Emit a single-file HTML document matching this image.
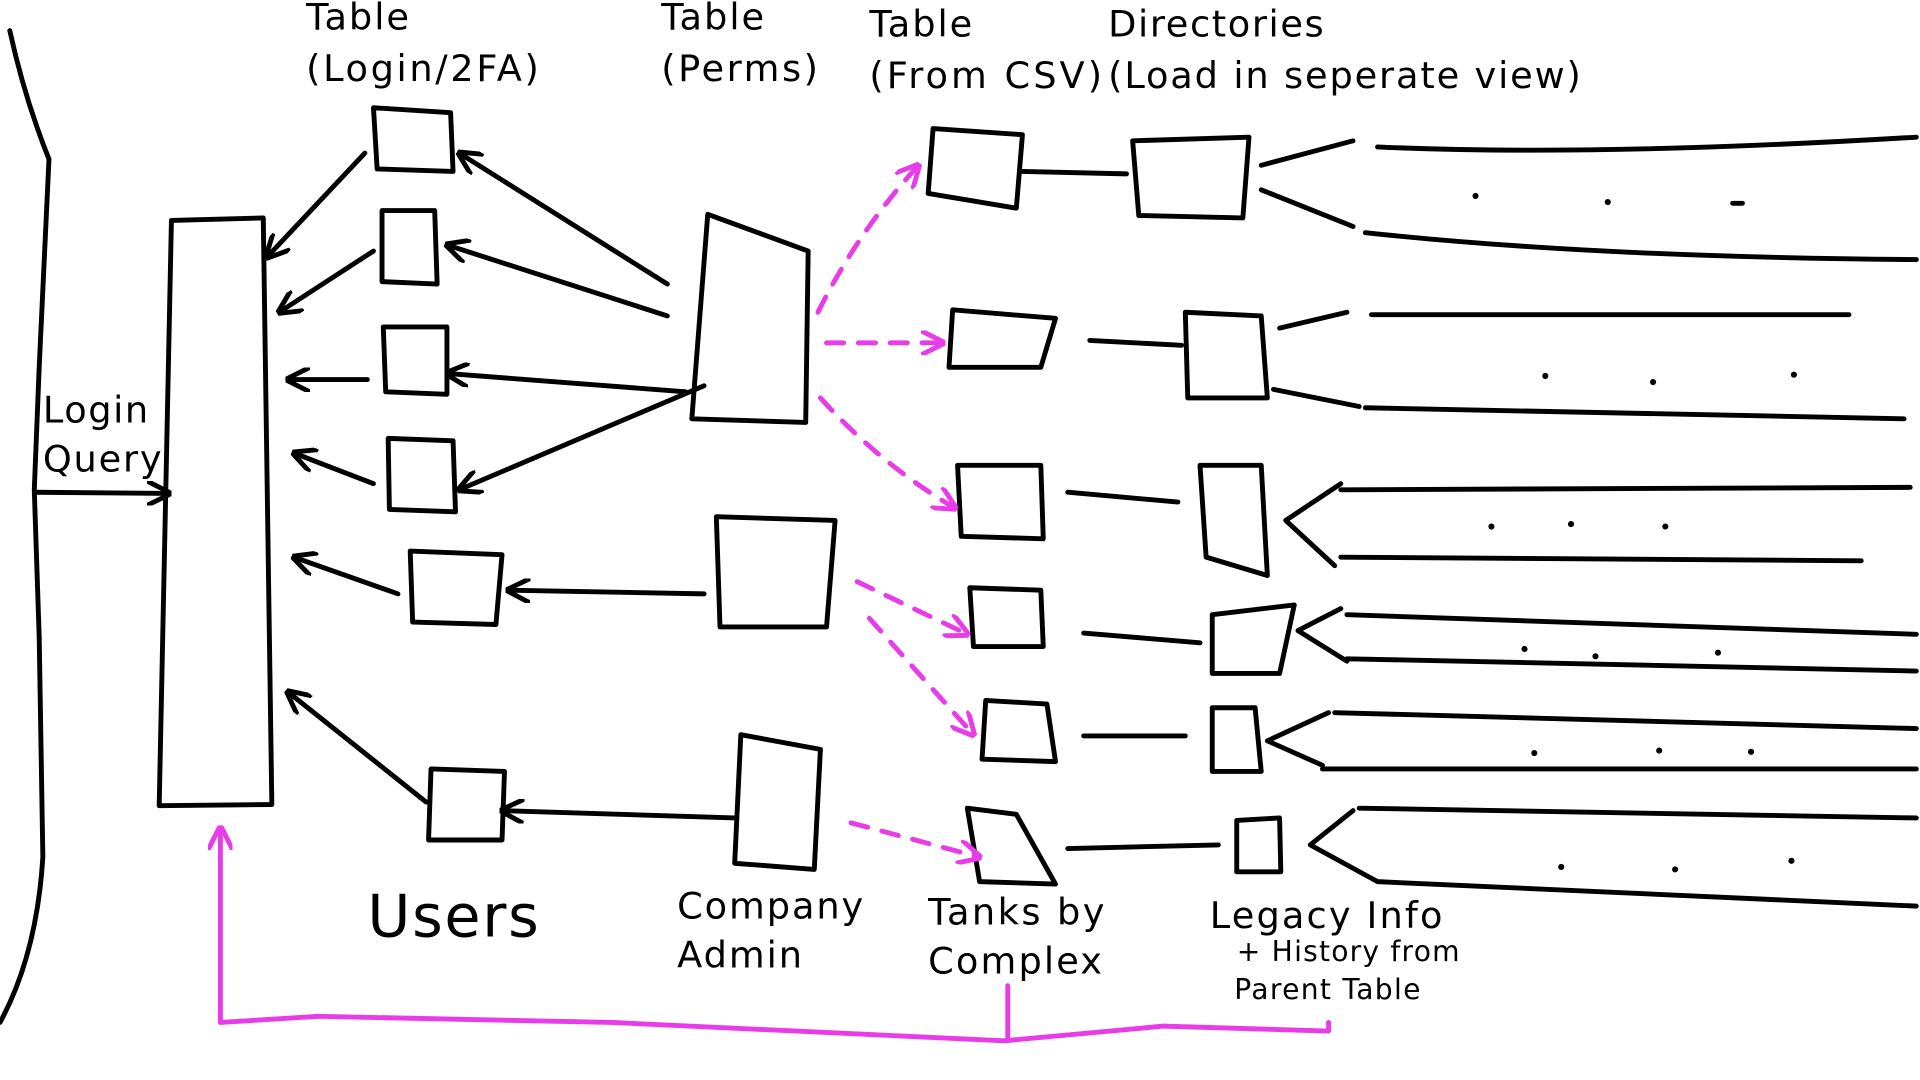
<!DOCTYPE html>
<html><head><meta charset="utf-8"><style>
html,body{margin:0;padding:0;background:#fff;}
svg{display:block;}
text{font-family:"DejaVu Sans","Liberation Sans",sans-serif;fill:#000;}
</style></head><body>
<svg width="1920" height="1080" viewBox="0 0 1568 882" preserveAspectRatio="none" xmlns="http://www.w3.org/2000/svg">
<defs>
<marker id="ah" viewBox="0 0 10 10" refX="9" refY="5" markerWidth="5" markerHeight="5" orient="auto-start-reverse"><path d="M0,0 L10,5 L0,10" fill="none" stroke="#000" stroke-width="2"/></marker>
<marker id="am" viewBox="0 0 10 10" refX="9" refY="5" markerWidth="5" markerHeight="5" orient="auto-start-reverse"><path d="M0,0 L10,5 L0,10" fill="none" stroke="#e83ce8" stroke-width="2"/></marker>
</defs>
<g fill="none" stroke="#000" stroke-width="4" stroke-linecap="round" stroke-linejoin="round">
<path d="M8,25 Q20,80 40,130 L32,300 L28,400 L32,520 L35,700 Q30,780 0,835"/>
<path d="M140,180 L215,178 L222,657 L130,658 Z"/>
<path d="M28,402 L138,403" marker-end="url(#ah)"/>
<path d="M305,88 L368,92 L370,140 L308,138 Z"/>
<path d="M312,172 L355,172 L357,232 L312,230 Z"/>
<path d="M313,267 L365,267 L365,322 L315,320 Z"/>
<path d="M317,358 L370,360 L372,418 L318,416 Z"/>
<path d="M335,450 L410,453 L405,510 L337,508 Z"/>
<path d="M352,628 L412,630 L410,686 L350,686 Z"/>
<path d="M298,125 L218,210" marker-end="url(#ah)"/>
<path d="M305,205 L228,255" marker-end="url(#ah)"/>
<path d="M300,310 L235,310" marker-end="url(#ah)"/>
<path d="M305,395 L240,370" marker-end="url(#ah)"/>
<path d="M325,485 L240,455" marker-end="url(#ah)"/>
<path d="M348,655 L235,565" marker-end="url(#ah)"/>
<path d="M578,175 L660,205 L658,345 L565,342 Z"/>
<path d="M545,232 L375,125" marker-end="url(#ah)"/>
<path d="M545,258 L365,200" marker-end="url(#ah)"/>
<path d="M560,320 L365,305" marker-end="url(#ah)"/>
<path d="M575,315 L375,400" marker-end="url(#ah)"/>
<path d="M585,422 L682,425 L675,512 L588,512 Z"/>
<path d="M575,485 L415,482" marker-end="url(#ah)"/>
<path d="M605,600 L670,612 L665,710 L600,705 Z"/>
<path d="M600,668 L410,662" marker-end="url(#ah)"/>
<path d="M762,105 L835,110 L830,170 L758,158 Z"/>
<path d="M778,253 L862,260 L850,300 L775,300 Z"/>
<path d="M782,380 L850,380 L852,440 L785,438 Z"/>
<path d="M792,480 L850,482 L852,528 L795,528 Z"/>
<path d="M805,572 L855,575 L862,622 L802,620 Z"/>
<path d="M790,660 L830,665 L862,722 L800,720 Z"/>
<path d="M925,115 L1020,112 L1015,178 L930,176 Z"/>
<path d="M968,255 L1030,258 L1035,325 L970,325 Z"/>
<path d="M980,380 L1030,380 L1035,470 L985,455 Z"/>
<path d="M990,502 L1057,494 L1045,550 L990,550 Z"/>
<path d="M990,578 L1025,578 L1030,630 L990,630 Z"/>
<path d="M1010,670 L1045,668 L1046,712 L1010,712 Z"/>
<path d="M835,140 L920,142"/>
<path d="M890,278 L965,282"/>
<path d="M872,402 L962,410"/>
<path d="M885,517 L980,525"/>
<path d="M885,601 L968,601"/>
<path d="M872,693 L995,690"/>
<path d="M1030,135 L1105,115 M1030,155 L1105,185 M1125,120 Q1300,128 1565,112 M1115,190 Q1300,210 1565,212"/>
<path d="M1045,268 L1100,255 M1040,318 L1110,332 M1120,257 L1510,257 M1115,333 L1555,342"/>
<path d="M1095,395 L1050,425 L1090,462 M1095,400 L1560,398 M1095,455 L1520,458"/>
<path d="M1095,497 L1060,515 L1100,540 M1100,502 L1565,518 M1100,538 L1565,548"/>
<path d="M1085,582 L1035,605 L1080,625 M1090,582 L1565,595 M1080,628 L1565,628"/>
<path d="M1105,662 L1070,690 L1125,720 M1110,660 L1565,668 M1125,720 L1565,740"/>
<path d="M1415,166 L1423,166"/>
</g>
<g fill="#000">
<circle cx="1205" cy="160" r="2.5"/><circle cx="1313" cy="165" r="2.5"/>
<circle cx="1262" cy="307" r="2.5"/><circle cx="1350" cy="312" r="2.5"/><circle cx="1465" cy="306" r="2.5"/>
<circle cx="1218" cy="430" r="2.5"/><circle cx="1283" cy="428" r="2.5"/><circle cx="1360" cy="430" r="2.5"/>
<circle cx="1245" cy="530" r="2.5"/><circle cx="1303" cy="536" r="2.5"/><circle cx="1403" cy="533" r="2.5"/>
<circle cx="1253" cy="615" r="2.5"/><circle cx="1355" cy="613" r="2.5"/><circle cx="1430" cy="614" r="2.5"/>
<circle cx="1275" cy="708" r="2.5"/><circle cx="1368" cy="710" r="2.5"/><circle cx="1463" cy="703" r="2.5"/>
</g>
<g fill="none" stroke="#e83ce8" stroke-width="4" stroke-linecap="round" stroke-linejoin="round">
<path d="M668,255 Q700,190 750,135" stroke-dasharray="14,12" marker-end="url(#am)"/>
<path d="M675,280 L770,280" stroke-dasharray="14,12" marker-end="url(#am)"/>
<path d="M670,325 Q720,380 780,415" stroke-dasharray="14,12" marker-end="url(#am)"/>
<path d="M700,475 L790,518" stroke-dasharray="14,12" marker-end="url(#am)"/>
<path d="M710,505 L795,600" stroke-dasharray="14,12" marker-end="url(#am)"/>
<path d="M695,672 L800,700" stroke-dasharray="14,12" marker-end="url(#am)"/>
<path d="M180,835 L180,676" marker-end="url(#am)"/>
<path d="M180,835 L260,830 L500,835 L820,850 L950,838 L1085,842 L1085,835"/>
<path d="M823,805 L823,850"/>
</g>
<g font-size="30">
<text x="250" y="24" textLength="84">Table</text><text x="250" y="66" textLength="190">(Login/2FA)</text>
<text x="540" y="24" textLength="84">Table</text><text x="540" y="66" textLength="128">(Perms)</text>
<text x="710" y="30" textLength="84">Table</text><text x="710" y="72" textLength="190">(From CSV)</text>
<text x="905" y="30" textLength="176">Directories</text><text x="905" y="72" textLength="386">(Load in seperate view)</text>
<text x="35" y="345" textLength="86">Login</text><text x="35" y="385" textLength="97">Query</text>
<text x="553" y="750" textLength="152">Company</text><text x="553" y="790" textLength="102">Admin</text>
<text x="758" y="755" textLength="144">Tanks by</text><text x="758" y="795" textLength="142">Complex</text>
<text x="988" y="758" textLength="190">Legacy Info</text>
</g>
<text x="300" y="765" font-size="48" textLength="140">Users</text>
<text x="1010" y="785" font-size="23" textLength="182">+ History from</text>
<text x="1008" y="816" font-size="23" textLength="152">Parent Table</text>
</svg>
</body></html>
